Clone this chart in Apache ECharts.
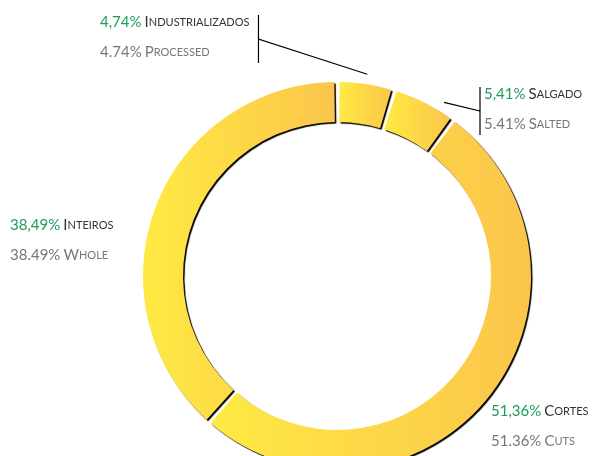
<!DOCTYPE html>
<html>
<head>
<meta charset="utf-8">
<script src="https://cdn.jsdelivr.net/npm/echarts@6/dist/echarts.min.js"></script>
<style>
    html, body { margin: 0; padding: 0; background: #fff; }
    #chart { width: 593px; height: 456px; }
</style>
</head>
<body>
<div id="chart"></div>
<script>
// dados do gráfico
const namesPt = ['Industrializados', 'Salgado', 'Cortes', 'Inteiros'];
const namesEn = ['Processed', 'Salted', 'Cuts', 'Whole'];
const shares = [4.74, 5.41, 51.36, 38.49];

// layout dos rótulos (canto superior esquerdo do bloco de texto)
const labelPos = [[100, 7], [484, 79], [491, 396], [10, 210]];
const barSide = ['right', 'left', null, null];
const anchorAt = [0.5, 0.75, 0.5, 0.5];

const CX = 337, CY = 276, R0 = 154, R1 = 194;

function smallCaps(word, capStyle, scStyle) {
    return '{' + capStyle + '|' + word[0].toUpperCase() + '}{' + scStyle + '|' + word.slice(1).toUpperCase() + '}';
}

function anchorPoint(i) {
    const total = shares.reduce((a, b) => a + b, 0);
    let before = 0;
    for (let k = 0; k < i; k++) before += shares[k];
    const theta = (before + shares[i] * anchorAt[i]) / total * Math.PI * 2;
    const r = R1 + 10;
    return [CX + r * Math.sin(theta), CY - r * Math.cos(theta)];
}

const chart = echarts.init(document.getElementById('chart'));

const option = {
    backgroundColor: '#fff',
    animation: false,
    series: [{
        type: 'pie',
        center: [CX, CY],
        radius: [R0, R1],
        startAngle: 90,
        padAngle: 1.6,
        avoidLabelOverlap: false,
        emphasis: { disabled: true },
        itemStyle: {
            color: new echarts.graphic.LinearGradient(0, 0, 1, 0, [
                { offset: 0, color: '#FFEA43' },
                { offset: 1, color: '#FBC54B' }
            ]),
            shadowColor: 'rgba(0, 0, 0, 1)',
            shadowBlur: 1,
            shadowOffsetX: 1.5,
            shadowOffsetY: 1.5
        },
        label: {
            show: true,
            position: 'outside',
            overflow: 'none',
            width: 200,
            fontFamily: 'Lato',
            formatter: function (p) {
                const i = p.dataIndex;
                const pt = shares[i].toFixed(2).replace('.', ',') + '%';
                const en = shares[i].toFixed(2) + '%';
                return '{pct|' + pt + '} ' + smallCaps(namesPt[i], 'cap', 'sc') + '\n' +
                    '{en|' + en + '} ' + smallCaps(namesEn[i], 'ecap', 'esc');
            },
            rich: {
                pct: { color: '#1f9a5c', fontSize: 15, lineHeight: 30, fontFamily: 'Lato' },
                cap: { color: '#333', fontSize: 15, lineHeight: 30, fontFamily: 'Lato' },
                sc: { color: '#333', fontSize: 11, lineHeight: 30, fontFamily: 'Lato' },
                en: { color: '#777', fontSize: 15, lineHeight: 30, fontFamily: 'Lato' },
                ecap: { color: '#777', fontSize: 15, lineHeight: 30, fontFamily: 'Lato' },
                esc: { color: '#777', fontSize: 11, lineHeight: 30, fontFamily: 'Lato' }
            }
        },
        labelLine: {
            lineStyle: { color: '#000', width: 1.2 }
        },
        labelLayout: function (params) {
            const i = params.dataIndex;
            const x = labelPos[i][0], y = labelPos[i][1];
            const out = { x: x, y: y, align: 'left', verticalAlign: 'top' };
            if (barSide[i]) {
                const w = params.labelRect.width;
                const bx = barSide[i] === 'right' ? x + w + 9 : x - 4;
                const top = y + 8, bottom = y + 56, mid = y + 32;
                out.labelLinePoints = [anchorPoint(i), [bx, mid], [bx, top], [bx, bottom]];
            }
            return out;
        },
        data: shares.map((v, i) => ({
            value: v,
            name: namesPt[i],
            labelLine: { show: !!barSide[i] }
        }))
    }]
};

chart.setOption(option);
</script>
</body>
</html>
